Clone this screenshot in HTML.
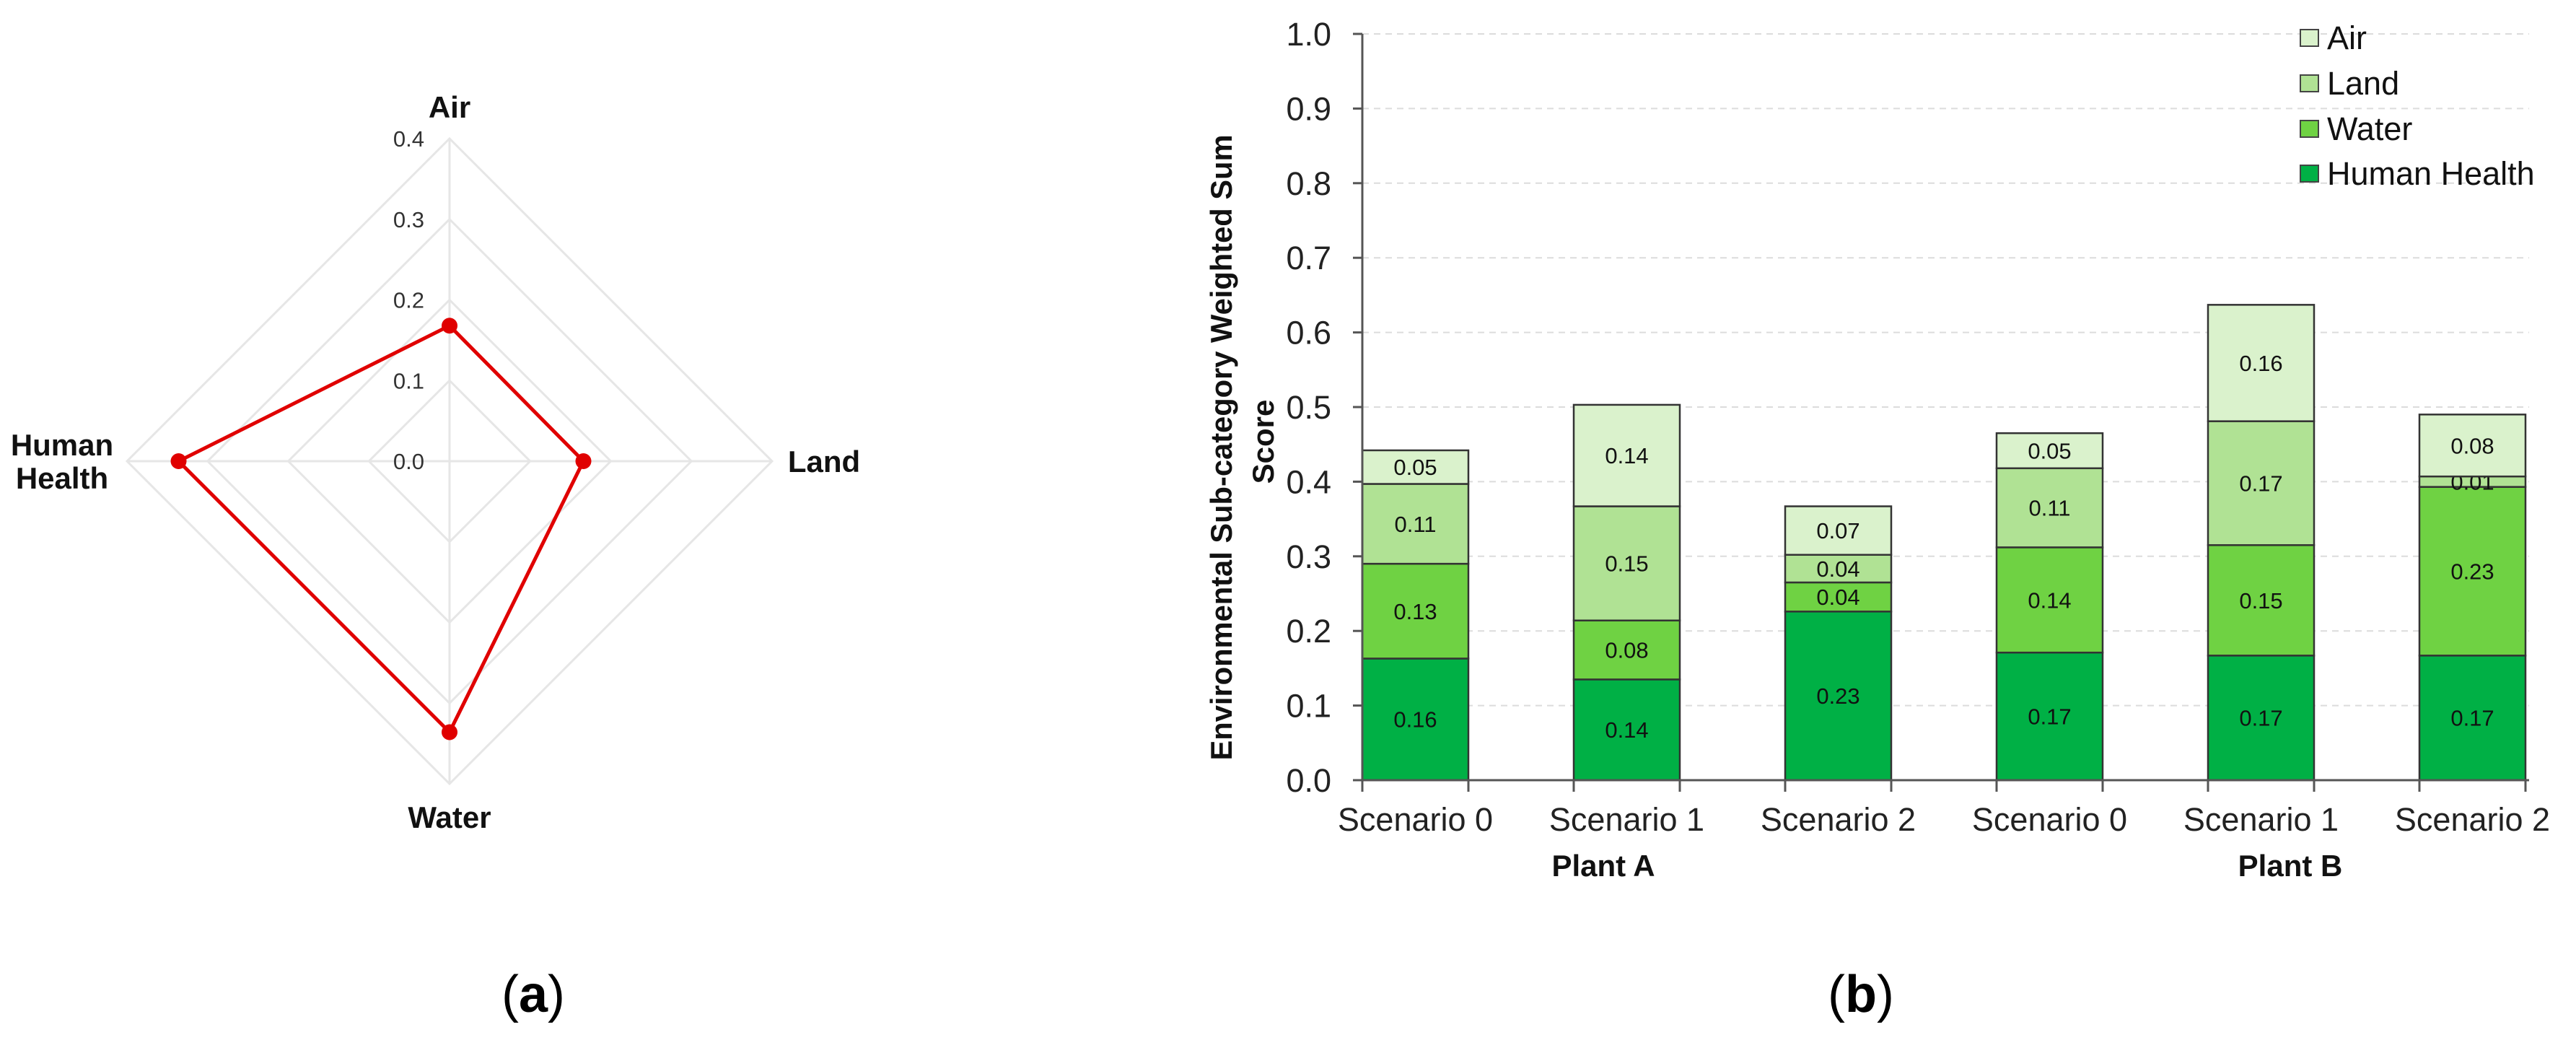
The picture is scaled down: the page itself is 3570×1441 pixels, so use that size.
<!DOCTYPE html>
<html><head><meta charset="utf-8"><style>
html,body{margin:0;padding:0;background:#fff;}
svg{display:block;}
text{font-family:"Liberation Sans",sans-serif;}
</style></head><body>
<svg id="fig" width="3570" height="1441" viewBox="0 0 3570 1441" xmlns="http://www.w3.org/2000/svg">
<g id="radar"></g>
<g id="bars"></g>
<text x="739" y="1402" font-family="Liberation Serif,serif" font-size="72" text-anchor="middle">(<tspan font-weight="bold">a</tspan>)</text>
<text x="2579" y="1402" font-family="Liberation Serif,serif" font-size="72" text-anchor="middle">(<tspan font-weight="bold">b</tspan>)</text>
</svg>
<script>
// ---------- Radar data ----------
const radarAxes = ["Air", "Land", "Water", "Human Health"];
const radarValues = [0.168, 0.166, 0.336, 0.336];
const radarTicks = ["0.0", "0.1", "0.2", "0.3", "0.4"];
const radarMax = 0.4;

// ---------- Bar data ----------
const barCategories = ["Scenario 0", "Scenario 1", "Scenario 2", "Scenario 0", "Scenario 1", "Scenario 2"];
const groupLabels = ["Plant A", "Plant B"];
const seriesNames = ["Human Health", "Water", "Land", "Air"];
const humanHealth = [0.163, 0.135, 0.226, 0.171, 0.167, 0.167];
const water = [0.127, 0.079, 0.039, 0.141, 0.148, 0.226];
const land = [0.107, 0.153, 0.037, 0.106, 0.166, 0.014];
const air = [0.045, 0.136, 0.065, 0.047, 0.156, 0.083];
const humanHealthLabels = ["0.16", "0.14", "0.23", "0.17", "0.17", "0.17"];
const waterLabels = ["0.13", "0.08", "0.04", "0.14", "0.15", "0.23"];
const landLabels = ["0.11", "0.15", "0.04", "0.11", "0.17", "0.01"];
const airLabels = ["0.05", "0.14", "0.07", "0.05", "0.16", "0.08"];
const yTicks = ["0.0", "0.1", "0.2", "0.3", "0.4", "0.5", "0.6", "0.7", "0.8", "0.9", "1.0"];

const NS = "http://www.w3.org/2000/svg";
function mk(parent, tag, attrs, txt) {
  const e = document.createElementNS(NS, tag);
  for (const k in attrs) e.setAttribute(k, attrs[k]);
  if (txt !== undefined) e.textContent = txt;
  parent.appendChild(e);
  return e;
}

// ---------- Radar ----------
(function () {
  const g = document.getElementById('radar');
  const cx = 623, cy = 639, R = 447;
  const ang = [-Math.PI / 2, 0, Math.PI / 2, Math.PI];
  const pt = (v, i) => [cx + Math.cos(ang[i]) * v / radarMax * R, cy + Math.sin(ang[i]) * v / radarMax * R];
  for (let t = 1; t < radarTicks.length; t++) {
    const v = parseFloat(radarTicks[t]);
    const p = ang.map((a, i) => pt(v, i).join(',')).join(' ');
    const e = mk(g, 'polygon', { points: p, fill: 'none', stroke: '#e6e6e6', 'stroke-width': 3 });
    
    
  }
  ang.forEach((a, i) => {
    const p = pt(radarMax, i);
    const e = mk(g, 'line', { x1: cx, y1: cy, x2: p[0], y2: p[1], stroke: '#e6e6e6', 'stroke-width': 3 });
    
    
  });
  radarTicks.forEach((t, k) => {
    const v = parseFloat(t);
    const e = mk(g, 'text', { x: 588, y: cy - v / radarMax * R + 11, 'font-size': 31, fill: '#333', 'text-anchor': 'end' }, t);
    
    
  });
  const pts = radarValues.map((v, i) => pt(v, i));
  const poly = mk(g, 'polygon', { points: pts.map(p => p.join(',')).join(' '), fill: 'none', stroke: '#e00000', 'stroke-width': 5, 'stroke-linejoin': 'miter' });
  
  
  pts.forEach(p => {
    const c = mk(g, 'circle', { cx: p[0], cy: p[1], r: 11, fill: '#e00000' });
    
    
  });
  const lab = (x, y, s) => {
    const e = mk(g, 'text', { x: x, y: y, 'font-size': 42, 'font-weight': 'bold', 'text-anchor': 'middle', fill: '#111' }, s);
    
    
  };
  lab(623, 163, radarAxes[0]);
  lab(1142, 654, radarAxes[1]);
  lab(623, 1147, radarAxes[2]);
  const hw = radarAxes[3].split(' ');
  lab(86, 631, hw[0]);
  lab(86, 677, hw[1]);
})();

// ---------- Bars ----------
(function () {
  const g = document.getElementById('bars');
  const x0 = 1888, pitch = 293, bw = 147, yBase = 1081, yTop = 47;
  const ys = v => yBase - v * (yBase - yTop);
  // grid + ticks
  yTicks.forEach(t => {
    const v = parseFloat(t), y = ys(v);
    if (v > 0) {
      const gl = mk(g, 'line', { x1: x0, y1: y, x2: 3505, y2: y, stroke: '#dcdcdc', 'stroke-width': 2, 'stroke-dasharray': '9 7' });
      
      
    }
    const tk = mk(g, 'line', { x1: 1875, y1: y, x2: x0, y2: y, stroke: '#555', 'stroke-width': 3 });
    
    
    const tl = mk(g, 'text', { x: 1845, y: y + 16, 'font-size': 45, 'text-anchor': 'end', fill: '#222' }, t);
    
    
  });
  const series = [humanHealth, water, land, air];
  const labels = [humanHealthLabels, waterLabels, landLabels, airLabels];
  const colors = ['#00b045', '#6fd243', '#b0e294', '#daf2cc'];
  const names = ['human-health', 'water', 'land', 'air'];
  barCategories.forEach((c, i) => {
    const bx = x0 + i * pitch;
    let cum = 0;
    series.forEach((s, k) => {
      const v = s[i];
      const yt = ys(cum + v), yb = ys(cum);
      const r = mk(g, 'rect', { x: bx, y: yt, width: bw, height: yb - yt, fill: colors[k], stroke: '#333', 'stroke-width': 2.5 });
      
      
      const tl = mk(g, 'text', { x: bx + bw / 2, y: (yt + yb) / 2 + 11, 'font-size': 31, 'text-anchor': 'middle', fill: '#111' }, labels[k][i]);
      
      
      cum += v;
    });
    [bx, bx + bw].forEach(tx => {
      const t = mk(g, 'line', { x1: tx, y1: yBase, x2: tx, y2: yBase + 16, stroke: '#555', 'stroke-width': 3 });
      
      
    });
    const xl = mk(g, 'text', { x: bx + bw / 2, y: 1151, 'font-size': 45, 'text-anchor': 'middle', fill: '#222' }, c);
    
    
  });
  const ax = mk(g, 'line', { x1: x0, y1: yTop, x2: x0, y2: yBase, stroke: '#555', 'stroke-width': 3 });
  
  
  const bl = mk(g, 'line', { x1: 1875, y1: yBase, x2: 3505, y2: yBase, stroke: '#555', 'stroke-width': 3 });
  
  
  const gx = [2222, 3174];
  groupLabels.forEach((s, j) => {
    const e = mk(g, 'text', { x: gx[j], y: 1214, 'font-size': 42, 'font-weight': 'bold', 'text-anchor': 'middle', fill: '#111' }, s);
    
    
  });
  const t1 = mk(g, 'text', { x: 0, y: 0, 'font-size': 42, 'font-weight': 'bold', 'text-anchor': 'middle', fill: '#111', textLength: 867, lengthAdjust: 'spacingAndGlyphs', transform: 'translate(1707,620) rotate(-90)' }, 'Environmental Sub-category Weighted Sum');
  
  
  const t2 = mk(g, 'text', { x: 0, y: 0, 'font-size': 42, 'font-weight': 'bold', 'text-anchor': 'middle', fill: '#111', transform: 'translate(1765,612) rotate(-90)' }, 'Score');
  
  
  // legend (top to bottom: Air, Land, Water, Human Health)
  const ly = [52, 115, 178, 240];
  [3, 2, 1, 0].forEach((k, r) => {
    const sw = mk(g, 'rect', { x: 3188, y: ly[r] - 11, width: 25, height: 23, fill: colors[k], stroke: '#444', 'stroke-width': 2 });
    
    
    const lt = mk(g, 'text', { x: 3225, y: ly[r] + 16, 'font-size': 45, fill: '#111' }, seriesNames[k]);
    
    
  });
})();
</script>
</body></html>
